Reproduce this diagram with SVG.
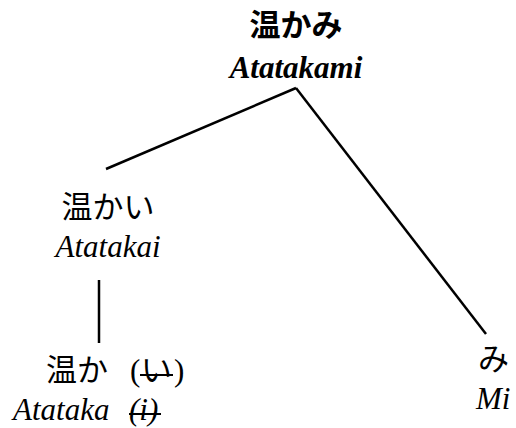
<svg xmlns="http://www.w3.org/2000/svg" width="516" height="428" viewBox="0 0 516 428">
<style>
.jp{font-family:"Noto Sans CJK JP","Noto Sans CJK SC",sans-serif;font-size:31px;fill:#000}
.jpb{font-weight:bold}
.lat{font-family:"Liberation Serif","Times New Roman",serif;font-size:31px;font-style:italic;fill:#000}
.latb{font-weight:bold}
.par{font-family:"Liberation Serif","Times New Roman",serif;font-size:31px;fill:#000}
.edge{stroke:#000;stroke-width:2.5;fill:none}
.strike{stroke:#000;stroke-width:2}
</style>
<rect width="516" height="428" fill="#fff"/>
<g id="connectors">
<line class="edge" x1="296" y1="88" x2="106" y2="169"/>
<line class="edge" x1="296" y1="88" x2="486" y2="334"/>
<line class="edge" x1="99" y1="280" x2="99" y2="343"/>
</g>
<g id="node-atatakami">
<text class="jp jpb" x="296" y="36" text-anchor="middle">温かみ</text>
<text class="lat latb" x="296" y="78" text-anchor="middle">Atatakami</text>
</g>
<g id="node-atatakai">
<text class="jp" x="108" y="218" text-anchor="middle">温かい</text>
<text class="lat" x="108" y="257" text-anchor="middle">Atatakai</text>
</g>
<g id="node-atataka">
<text class="jp" x="46" y="381">温か</text>
<text class="par" x="130" y="381">(</text>
<text class="jp" x="141" y="381">い</text>
<text class="par" x="174" y="381">)</text>
<line class="strike" x1="140" y1="375" x2="173" y2="375"/>
<text class="lat" x="13" y="420">Atataka</text>
<text class="lat" x="129" y="420">(i)</text>
<line class="strike" x1="129" y1="414" x2="161" y2="414"/>
</g>
<g id="node-mi">
<text class="jp" x="478" y="370">み</text>
<text class="lat" x="476" y="409">Mi</text>
</g>
</svg>
